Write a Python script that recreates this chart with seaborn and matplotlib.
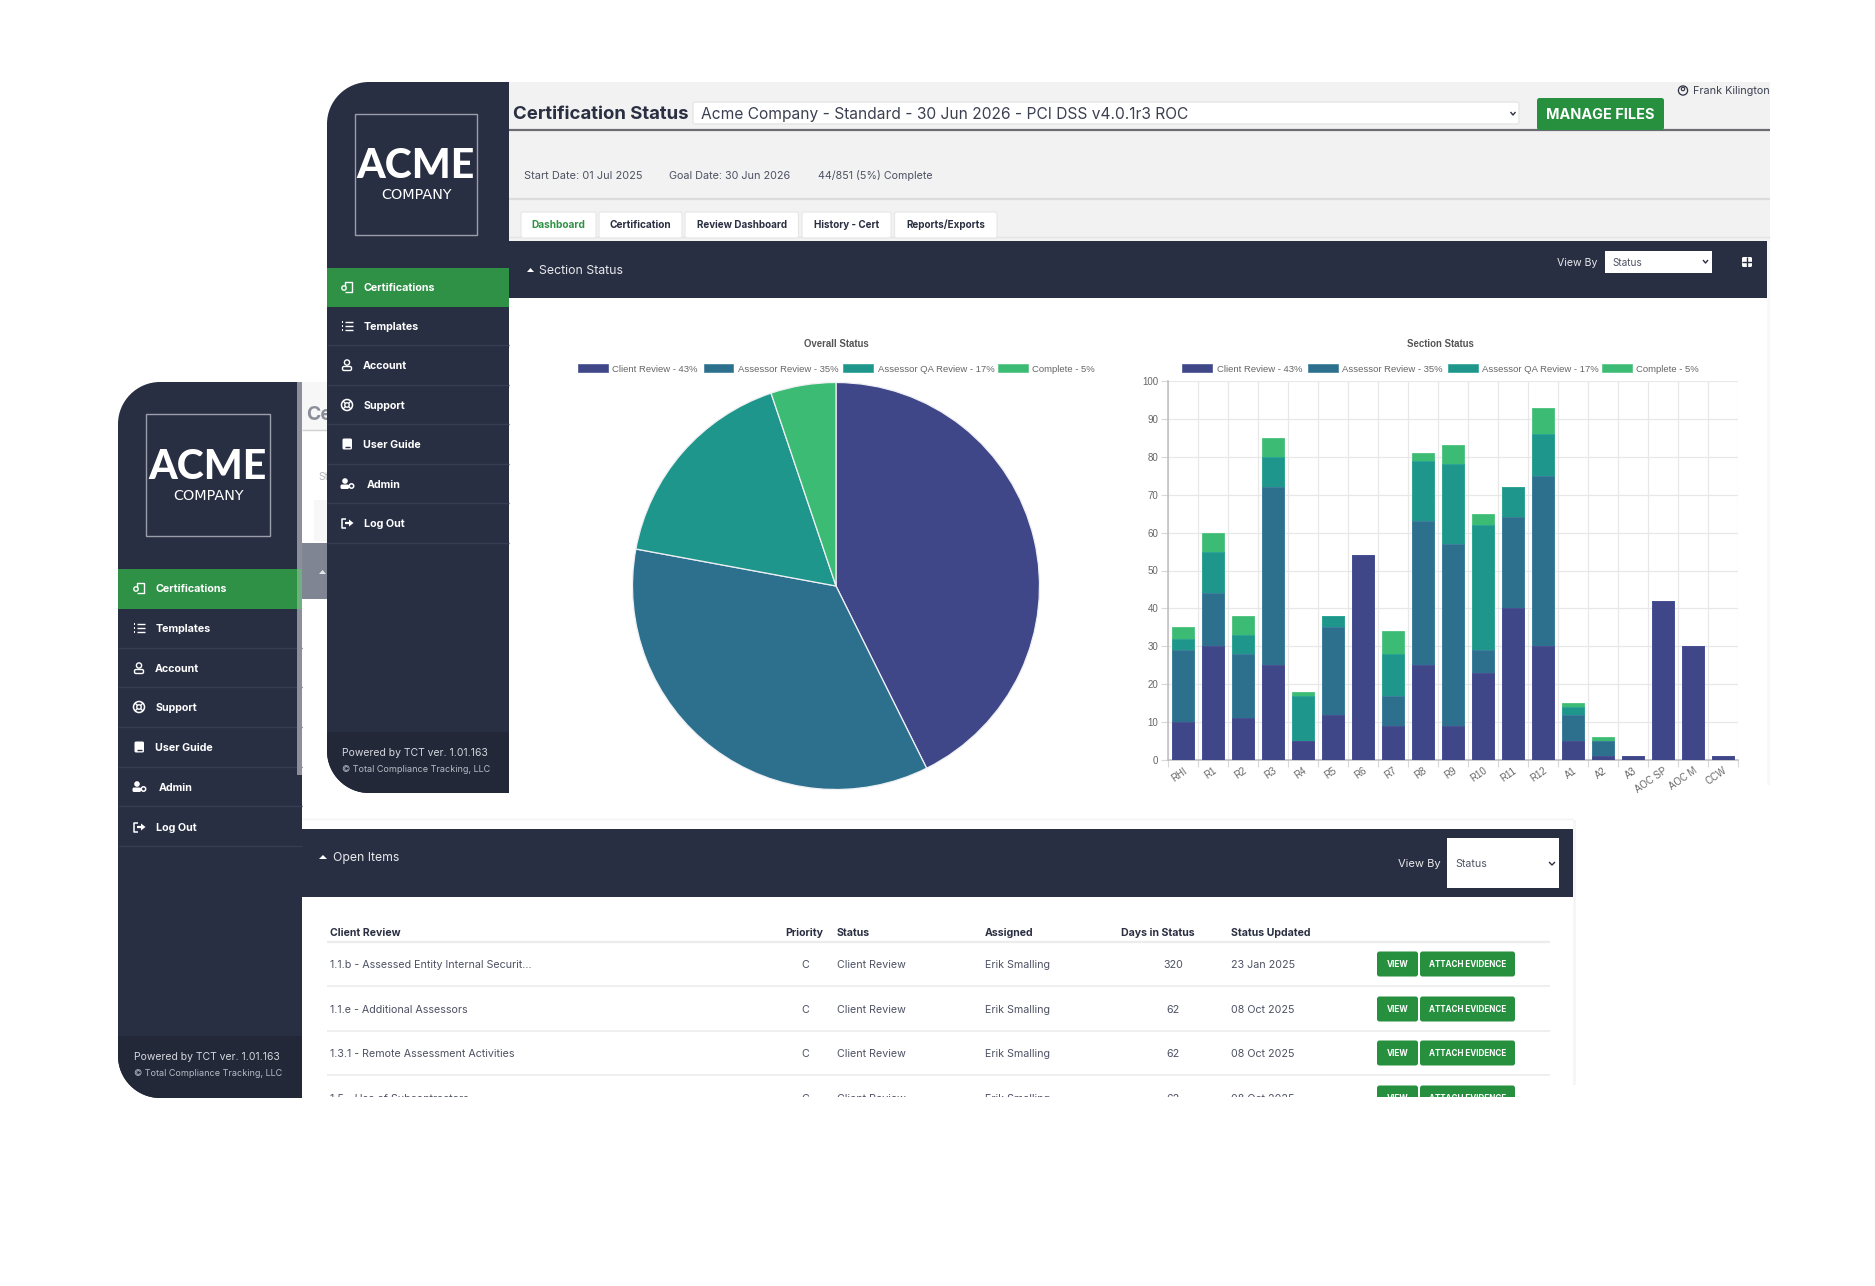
import matplotlib
matplotlib.use("Agg")
import matplotlib.pyplot as plt
from matplotlib.patches import Rectangle, FancyBboxPatch, PathPatch, Circle, Polygon
from matplotlib.path import Path
import numpy as np
import pandas as pd
import seaborn as sns

# ---------------- data ----------------
series_names = ["Client Review", "Assessor Review", "Assessor QA Review", "Complete"]
overall_pct = [43, 35, 17, 5]
overall_counts = [363, 300, 144, 44]
sections = ["RHI", "R1", "R2", "R3", "R4", "R5", "R6", "R7", "R8", "R9", "R10", "R11", "R12",
            "A1", "A2", "A3", "AOC SP", "AOC M", "CCW"]
client_review = [10, 30, 11, 25, 5, 12, 54, 9, 25, 9, 23, 40, 30, 5, 1, 1, 42, 30, 1]
assessor_review = [19, 14, 17, 47, 0, 23, 0, 8, 38, 48, 6, 24, 45, 7, 4, 0, 0, 0, 0]
assessor_qa = [3, 11, 5, 8, 12, 3, 0, 11, 16, 21, 33, 8, 11, 2, 0, 0, 0, 0, 0]
complete = [3, 5, 5, 5, 1, 0, 0, 6, 2, 5, 3, 0, 7, 1, 1, 0, 0, 0, 0]
series_colors = ["#404788", "#2D708E", "#1F968B", "#3CBB75"]
edge_colors = ["#4a5193", "#3f7f9c", "#2ea596", "#55c585"]

menu_items = ["Certifications", "Templates", "Account", "Support", "User Guide", "Admin", "Log Out"]
table_columns = ["Client Review", "Priority", "Status", "Assigned", "Days in Status", "Status Updated"]
table_items = ["1.1.b - Assessed Entity Internal Securit...", "1.1.e - Additional Assessors",
               "1.3.1 - Remote Assessment Activities", "1.5 - Use of Subcontractors"]
table_days = ["320", "62", "62", "62"]
table_dates = ["23 Jan 2025", "08 Oct 2025", "08 Oct 2025", "08 Oct 2025"]
tabs = ["Dashboard", "Certification", "Review Dashboard", "History - Cert", "Reports/Exports"]

# ---------------- page ----------------
W, H = 1875, 1286
sns.set_theme(style="white")
plt.rcParams["font.family"] = ["Inter", "DejaVu Sans"]
fig = plt.figure(figsize=(W / 100, H / 100), dpi=100, facecolor="white")
bg = fig.add_axes([0, 0, 1, 1], zorder=0)
bg.set_xlim(0, W)
bg.set_ylim(H, 0)
bg.axis("off")

NAVY = "#292f43"
FOOT = "#232838"
GREEN = "#2f9146"
BTN = "#27903f"
SEP = "#373d52"
BODY = "#4d5263"
DARK = "#2a2f42"
Z = 5


def rect(x0, y0, x1, y1, c, **k):
    bg.add_patch(Rectangle((x0, y0), x1 - x0, y1 - y0, fc=c, ec=k.pop("ec", "none"),
                           lw=k.pop("lw", 0), zorder=Z, **k))


def rrect(x0, y0, x1, y1, c, r=3, ec="none", lw=0):
    bg.add_patch(FancyBboxPatch((x0 + r, y0 + r), x1 - x0 - 2 * r, y1 - y0 - 2 * r,
                                boxstyle=f"round,pad={r},rounding_size={r}",
                                fc=c, ec=ec, lw=lw, zorder=Z))


def T(x, y, s, size=8, c=BODY, weight="normal", ha="left", family=None):
    # y is the vertical middle of the capitals
    kw = {"family": family} if family else {}
    bg.text(x, y + 0.5 * size, s, fontsize=size, color=c, fontweight=weight, ha=ha, va="baseline", zorder=Z, **kw)


def L(xs, ys, c="white", lw=1.0):
    bg.plot(xs, ys, color=c, lw=lw, zorder=Z, solid_capstyle="butt")


def side_shape(x0, y0, x1, y1, r, c):
    k = 0.45 * r
    v = [(x1, y0), (x0 + r, y0), (x0 + k, y0), (x0, y0 + k), (x0, y0 + r),
         (x0, y1 - r), (x0, y1 - k), (x0 + k, y1), (x0 + r, y1), (x1, y1), (x1, y0)]
    cd = [Path.MOVETO, Path.LINETO, Path.CURVE4, Path.CURVE4, Path.CURVE4, Path.LINETO,
          Path.CURVE4, Path.CURVE4, Path.CURVE4, Path.LINETO, Path.CLOSEPOLY]
    patch = PathPatch(Path(v, cd), fc=c, ec="none", zorder=Z)
    bg.add_patch(patch)
    return patch


def icon(kind, x, y):
    w = "white"
    if kind == 0:   # certificate
        L([x - 2, x - 2, x + 5, x + 5, x - 2], [y - 1, y - 5, y - 5, y + 5, y + 5], w, 1)
        bg.add_patch(Circle((x - 3, y + 1), 2.2, fc="none", ec=w, lw=1, zorder=Z))
    elif kind == 1:  # list
        for dy in (-4, 0, 4):
            L([x - 5, x - 3.8], [y + dy, y + dy], w, 1.4)
            L([x - 2, x + 6], [y + dy, y + dy], w, 1)
    elif kind == 2:  # person
        bg.add_patch(Circle((x, y - 2.5), 2.6, fc="none", ec=w, lw=1, zorder=Z))
        rrect(x - 4.5, y + 1.5, x + 4.5, y + 5.5, "none", r=1.5, ec=w, lw=1)
    elif kind == 3:  # support
        bg.add_patch(Circle((x, y), 5.5, fc="none", ec=w, lw=1.1, zorder=Z))
        bg.add_patch(Circle((x, y), 2.2, fc="none", ec=w, lw=1, zorder=Z))
        for a in (45, 135, 225, 315):
            ca, sa = np.cos(np.radians(a)), np.sin(np.radians(a))
            L([x + 2.2 * ca, x + 5.5 * ca], [y + 2.2 * sa, y + 5.5 * sa], w, 1)
    elif kind == 4:  # book
        rrect(x - 4.5, y - 5.5, x + 5, y + 5.5, w, r=1.5)
        L([x - 2.5, x + 3], [y + 2.5, y + 2.5], NAVY, 1)
    elif kind == 5:  # admin
        bg.add_patch(Circle((x - 2, y - 3), 2.8, fc=w, ec="none", zorder=Z))
        rrect(x - 6.5, y + 0.5, x + 2, y + 5, w, r=1.5)
        bg.add_patch(Circle((x + 4.5, y + 2), 2.2, fc="none", ec=w, lw=1.1, zorder=Z))
    else:  # logout
        L([x - 1, x - 5, x - 5, x - 1], [y - 4.5, y - 4.5, y + 4.5, y + 4.5], w, 1.1)
        L([x - 2, x + 3], [y, y], w, 1.6)
        bg.add_patch(Polygon([(x + 2, y - 3.5), (x + 6.5, y), (x + 2, y + 3.5)], fc=w, ec="none", zorder=Z))


def sidebar(x0, x1, y0, y1, r, box, logo_y, comp_y, green, text_ys, seps, text_xs, ic_x, foot_y, foot_t):
    side_shape(x0, y0, x1, y1, r, NAVY)
    bg.add_patch(Rectangle((box[0], box[1]), box[2] - box[0], box[3] - box[1], fc="none", ec="#9a9eaa", lw=1, zorder=Z))
    cx = (box[0] + box[2]) / 2
    T(cx, logo_y, "ACME", 29.5, "white", "black", "center", "Lato")
    T(cx, comp_y, "COMPANY", 10.4, "white", "normal", "center", "DejaVu Sans")
    rect(x0, green[0], x1, green[1], GREEN)
    for i, m in enumerate(menu_items):
        T(text_xs[i], text_ys[i], m, 7.7, "white", "bold")
        icon(i, ic_x, text_ys[i])
    for s in seps:
        L([x0, x1], [s, s], SEP, 1)
    band = Rectangle((x0, foot_y), x1 - x0, y1 - foot_y, fc=FOOT, ec="none", zorder=Z)
    bg.add_patch(band)
    band.set_clip_path(side_shape(x0, y0, x1, y1, r, "none"))
    T(ic_x - 5, foot_t[0], "Powered by TCT ver. 1.01.163", 7.5, "#d5d7dd", "normal")
    T(ic_x - 5, foot_t[1], "© Total Compliance Tracking, LLC", 6.5, "#b9bcc6", "normal")


# ---------- back window ----------
rect(302, 382, 1573, 1097, "white")
rect(302, 382, 330, 430, "#f7f7f7")
L([302, 330], [430, 430], "#cfd0d4", 1)
T(306, 413, "Ce", 14, "#8b8f9a", "bold")
T(318, 476, "St", 7.4, "#b4b6bd")
rect(314, 500, 330, 541, "#f7f7f7")
rect(302, 543, 330, 599, "#7f8592")
bg.add_patch(Polygon([(319, 574), (326, 574), (322.5, 570)], fc="#e6e7ea", ec="none", zorder=Z))
L([302, 1573], [819, 819], "#f3f3f3", 1)
rect(1573, 820, 1576, 1085, "#f6f6f6")

rect(302, 829, 1573, 897, NAVY)
bg.add_patch(Polygon([(319, 859), (327, 859), (323, 855)], fc="white", ec="none", zorder=Z))
T(333, 857, "Open Items", 8.8, "#e8e9ec")
T(1398, 863, "View By", 8, "#e8e9ec")
rect(1447, 838, 1559, 888, "white")
T(1455, 863, "Status", 7.6, BODY)
L([1549, 1552, 1555], [862, 865, 862], DARK, 1)

rows_y = [964, 1009, 1053, 1098]
row_lines = [986, 1031, 1075]
L([327, 1550], [942, 942], "#ececec", 1.6)
for yy in row_lines:
    L([327, 1550], [yy, yy], "#ececec", 1.2)
T(330, 932, table_columns[0], 7.6, DARK, "bold")
T(804, 932, table_columns[1], 7.6, DARK, "bold", "center")
T(837, 932, table_columns[2], 7.6, DARK, "bold")
T(985, 932, table_columns[3], 7.6, DARK, "bold")
T(1158, 932, table_columns[4], 7.6, DARK, "bold", "center")
T(1231, 932, table_columns[5], 7.6, DARK, "bold")
for i, yy in enumerate(rows_y):
    T(330, yy, table_items[i], 7.7, BODY)
    T(805, yy, "C", 7.7, BODY, "normal", "center")
    T(837, yy, "Client Review", 7.7, BODY)
    T(985, yy, "Erik Smalling", 7.7, BODY)
    T(1173, yy, table_days[i], 7.7, BODY, "normal", "center")
    T(1231, yy, table_dates[i], 7.7, BODY)
    rrect(1377, yy - 12.5, 1418, yy + 12.5, BTN, r=2.5)
    rrect(1420, yy - 12.5, 1515, yy + 12.5, BTN, r=2.5)
    T(1397.5, yy, "VIEW", 5.9, "white", "bold", "center")
    T(1467.5, yy, "ATTACH EVIDENCE", 5.8, "white", "bold", "center")
rect(302, 1097, 1600, 1125, "white")

sidebar(118, 302, 382, 1098, 42, (146, 414, 270, 536), 464, 495, (569, 609),
        [588, 628, 668, 707, 747, 787, 827], [648, 687, 727, 767, 806, 846],
        [156, 156, 155, 156, 155, 159, 156], 139, 1036, (1056, 1073))
rect(297, 382, 302, 569, "#8b8f9b")
rect(297, 569, 302, 609, "#6fb07f")
rect(297, 609, 302, 775, "#8b8f9b")

# ---------- front window ----------
rect(509, 82, 1770, 241, "#f2f2f2")
rect(509, 241, 1770, 785, "white")
rect(1767, 241, 1770, 785, "#f8f8f8")
T(513, 112, "Certification Status", 13.4, DARK, "bold")
rrect(693, 102, 1519, 124, "white", r=2, ec="#e6e6e6", lw=1)
T(701, 113, "Acme Company - Standard - 30 Jun 2026 - PCI DSS v4.0.1r3 ROC", 11.2, "#3c4152")
L([1510.5, 1513, 1515.5], [112, 115, 112], DARK, 1)
L([509, 1770], [130, 130], "#6b6d72", 1.6)
rrect(1537, 98, 1664, 130, BTN, r=2.5)
T(1600.5, 114, "MANAGE FILES", 10.4, "white", "bold", "center")
bg.add_patch(Circle((1683, 90.5), 4.6, fc="none", ec=DARK, lw=0.9, zorder=Z))
bg.add_patch(Circle((1683, 89), 1.7, fc="none", ec=DARK, lw=0.8, zorder=Z))
T(1693, 90.5, "Frank Kilington", 7.8, "#3c4152")
T(524, 175, "Start Date: 01 Jul 2025", 7.9, BODY)
T(669, 175, "Goal Date: 30 Jun 2026", 7.8, BODY)
T(818, 175, "44/851 (5%) Complete", 7.7, BODY)
L([509, 1770], [199, 199], "#dcdcdc", 1.6)
L([509, 1770], [237, 237], "#e4e4e4", 1)
tab_x = [(521, 596), (599, 682), (685, 798.5), (802, 891), (894.5, 997)]
for i, (a, b) in enumerate(tab_x):
    rrect(a, 212, b, 238, "white", r=2, ec="#e6e6e6", lw=0.8)
    T((a + b) / 2, 224.5, tabs[i], 7.3 if i < 2 else 7.1, GREEN if i == 0 else DARK, "bold", "center")
rect(509, 241, 1767, 298, NAVY)
bg.add_patch(Polygon([(527, 272), (534, 272), (530.5, 268)], fc="white", ec="none", zorder=Z))
T(539, 270, "Section Status", 8.9, "#e8e9ec")
T(1557, 262, "View By", 7.6, "#e8e9ec")
rect(1605, 251, 1712, 273, "white")
T(1612, 262, "Status", 7.2, BODY)
L([1703, 1705.5, 1708], [260, 263, 260], DARK, 1)
rrect(1742, 257, 1752, 267, "white", r=1.5)
L([1747, 1747], [257, 267], NAVY, 1)
L([1742, 1752], [262, 262], NAVY, 1)

sidebar(327, 509, 82, 793, 42, (355, 114, 477, 235), 163, 194, (268, 307),
        [287, 326, 365, 405, 444, 484, 523], [345, 385, 424, 464, 503, 543],
        [364, 364, 363, 364, 363, 367, 364], 347, 732, (752, 769))


# ---------- charts ----------
def axes_px(x0, y0, x1, y1, z=10):
    return fig.add_axes([x0 / W, 1 - y1 / H, (x1 - x0) / W, (y1 - y0) / H], zorder=z)


HELV = "Liberation Sans"
GREY = "#666666"
labels = [f"{n} - {p}%" for n, p in zip(series_names, overall_pct)]


def chart_legend(title, tx, swatches, text_x):
    T(tx, 343.5, title, 6.9, "#555555", "bold", "center", HELV)
    for i in range(4):
        rect(swatches[i][0], 364, swatches[i][1], 372, series_colors[i], ec=edge_colors[i], lw=0.5)
        T(text_x[i], 368.5, labels[i], 6.8, GREY, "normal", "left", HELV)


chart_legend("Overall Status", 836,
             [(578, 607.5), (703.5, 733), (843, 872.5), (998, 1027.5)], [612.5, 738, 877.5, 1032])
chart_legend("Section Status", 1440,
             [(1182, 1212), (1308, 1338), (1447.5, 1478), (1602, 1632)], [1217, 1342.5, 1482, 1636.5])

PCX, PCY, PR = 836, 586, 203.5
pie_ax = axes_px(PCX - 206, PCY - 206, PCX + 206, PCY + 206)
pie_ax.pie(overall_counts, colors=series_colors, startangle=90, counterclock=False, radius=1.0,
           wedgeprops={"edgecolor": "#eef0f4", "linewidth": 0.9})
pie_ax.set_xlim(-206 / PR, 206 / PR)
pie_ax.set_ylim(-206 / PR, 206 / PR)
pie_ax.set_aspect("equal")
pie_ax.patch.set_alpha(0)

bar_ax = axes_px(1168, 381, 1738, 760)
df = pd.DataFrame({"section": sections, "Client Review": client_review, "Assessor Review": assessor_review,
                   "Assessor QA Review": assessor_qa, "Complete": complete})
cum = df[series_names].cumsum(axis=1)
bar_ax.set_axisbelow(True)
for i in range(3, -1, -1):
    sns.barplot(x=df["section"], y=cum[series_names[i]], order=sections, color=series_colors[i],
                saturation=1, width=0.71, edgecolor=edge_colors[i], linewidth=0.7, ax=bar_ax, zorder=3)
bar_ax.set_xlim(-0.5, 18.5)
bar_ax.set_ylim(0, 100)
bar_ax.set_xlabel("")
bar_ax.set_ylabel("")
bar_ax.set_yticks(np.arange(0, 101, 10))
bar_ax.set_xticks(np.arange(-0.5, 19, 1), minor=True)
bar_ax.grid(True, which="minor", axis="x", color="#e8e8e8", lw=0.9)
bar_ax.grid(True, which="major", axis="y", color="#e8e8e8", lw=0.9)
bar_ax.grid(False, which="major", axis="x")
bar_ax.tick_params(axis="x", which="major", length=0, pad=4)
bar_ax.tick_params(axis="x", which="minor", length=5, color="#d8d8d8", width=0.8, bottom=True)
bar_ax.tick_params(axis="y", length=5, color="#d8d8d8", width=0.8, left=True, pad=2)
for lab in bar_ax.get_yticklabels():
    lab.set(fontsize=7.0, color=GREY, family=HELV)
bar_ax.set_xticks(range(len(sections)))
bar_ax.set_xticklabels(sections, rotation=35, ha="right", rotation_mode="anchor",
                       fontsize=6.9, color=GREY, family=HELV)
for s in ("top", "right"):
    bar_ax.spines[s].set_visible(False)
for s in ("left", "bottom"):
    bar_ax.spines[s].set_visible(True)
    bar_ax.spines[s].set_color("#bdbdbd")
    bar_ax.spines[s].set_linewidth(1.1)
bar_ax.patch.set_alpha(0)

fig.savefig("out.png", dpi=100, facecolor="white")
